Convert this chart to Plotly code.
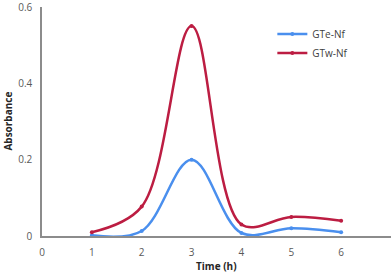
import plotly.graph_objects as go

time_h = [1, 2, 3, 4, 5, 6]
gte_nf = [0.002, 0.013, 0.2, 0.008, 0.02, 0.01]
gtw_nf = [0.01, 0.077, 0.55, 0.03, 0.05, 0.04]
x_ticks = [0, 1, 2, 3, 4, 5, 6]
y_ticks = [0, 0.2, 0.4, 0.6]

FONT = "Open Sans"
fig = go.Figure()
fig.add_trace(go.Scatter(x=time_h, y=gte_nf, name="GTe-Nf", mode="lines+markers",
                         line=dict(color="#4A8FEE", width=2.5, shape="spline", smoothing=1),
                         marker=dict(size=4, color="#4A8FEE")))
fig.add_trace(go.Scatter(x=time_h, y=gtw_nf, name="GTw-Nf", mode="lines+markers",
                         line=dict(color="#BC1D42", width=2.5, shape="spline", smoothing=1),
                         marker=dict(size=4, color="#BC1D42")))

fig.update_layout(
    width=392, height=273,
    margin=dict(l=42, r=1, t=7, b=37),
    plot_bgcolor="white", paper_bgcolor="white",
    font=dict(family=FONT, size=10, color="#595959"),
    showlegend=True,
    legend=dict(x=0.66, y=0.945, xanchor="left", yanchor="top",
                bgcolor="rgba(0,0,0,0)", font=dict(size=10, color="#404040"),
                tracegroupgap=0),
    xaxis=dict(range=[0, 7], tickvals=x_ticks, showgrid=False, zeroline=False,
               showline=True, linecolor="#8C8C8C", linewidth=1.5, automargin=False,
               ticks="", ticklabelstandoff=6, tickfont=dict(size=10, color="#595959")),
    yaxis=dict(range=[0, 0.6001], tickvals=y_ticks, ticktext=["0", "0.2", "0.4", "0.6"],
               showgrid=False, zeroline=False, showline=True, linecolor="#8C8C8C", linewidth=1.5,
               automargin=False, ticks="", ticklabeloverflow="allow", ticklabelstandoff=6,
               tickfont=dict(size=10, color="#595959")),
    annotations=[
        dict(text="<b>Time (h)</b>", x=0.5, y=-0.131, xref="paper", yref="paper",
             xanchor="center", yanchor="middle", showarrow=False,
             font=dict(size=10, color="#262626")),
        dict(text="<b>Absorbance</b>", x=-0.1, y=0.5, xref="paper", yref="paper",
             xanchor="center", yanchor="middle", showarrow=False, textangle=-90,
             font=dict(size=10, color="#262626")),
    ],
)
fig.write_html("out.html", config={"displayModeBar": False},
               post_script="document.body.style.margin='0';document.body.style.overflow='hidden';")
